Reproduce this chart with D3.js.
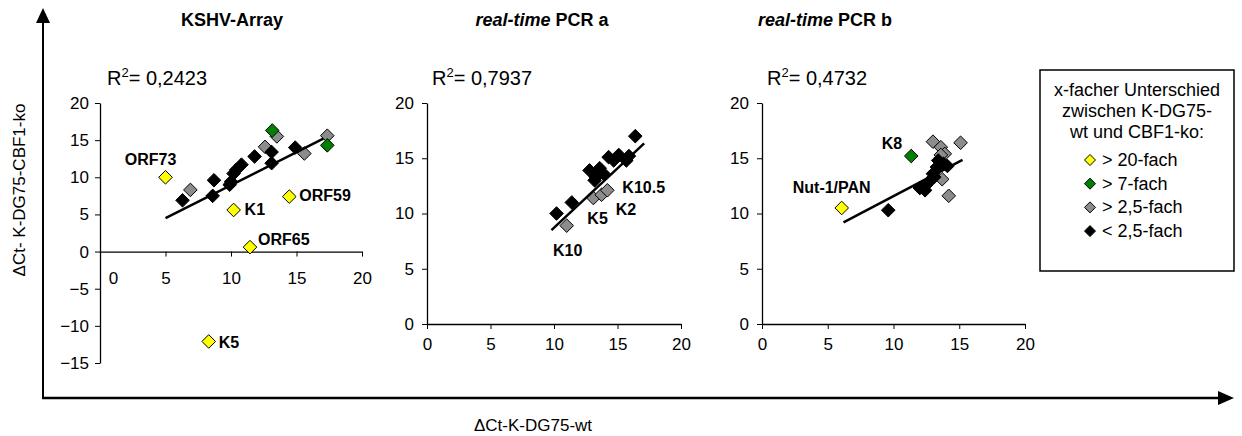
<!DOCTYPE html>
<html>
<head>
<meta charset="utf-8">
<script src="https://cdn.jsdelivr.net/npm/d3@7"></script>
<style>
  body { margin: 0; background: #ffffff; }
  svg { display: block; font-family: Arial, "Liberation Sans", Helvetica, sans-serif; }
</style>
</head>
<body>
<div id="chart"></div>
<script>
// Legend categories (fold change between K-DG75-wt and CBF1-ko)
const categoryLabels = ["> 20-fach", "> 7-fach", "> 2,5-fach", "< 2,5-fach"];
const legendTitleLines = ["x-facher Unterschied", "zwischen K-DG75-", "wt und CBF1-ko:"];

const titleItalic = ["", "real-time", "real-time"];
const titleRest = ["KSHV-Array", " PCR a", " PCR b"];
const r2Values = ["0,2423", "0,7937", "0,4732"];

const xTicks = [0, 5, 10, 15, 20];
const kshvTicksY = [-15, -10, -5, 0, 5, 10, 15, 20];
const pcrTicksY = [0, 5, 10, 15, 20];

// Panel 1: KSHV-Array (category index: 0 yellow, 1 green, 2 gray, 3 black)
const kshvX = [6.9, 12.6, 15.6, 17.35, 17.35, 13.5, 13.15,
  6.3, 8.6, 8.7, 9.9, 10.0, 10.2, 10.4, 10.8, 11.8, 13.1, 13.1, 14.9,
  5.0, 10.2, 14.45, 11.45, 8.3];
const kshvY = [8.3, 14.1, 13.2, 15.6, 14.3, 15.5, 16.3,
  6.9, 7.5, 9.6, 9.0, 9.4, 10.5, 11.0, 11.7, 12.8, 13.4, 11.9, 14.0,
  10.0, 5.6, 7.4, 0.6, -12.1];
const kshvCat = [2, 2, 2, 2, 1, 2, 1,
  3, 3, 3, 3, 3, 3, 3, 3, 3, 3, 3, 3,
  0, 0, 0, 0, 0];
const kshvNames = ["", "", "", "", "", "", "",
  "", "", "", "", "", "", "", "", "", "", "", "",
  "ORF73", "K1", "ORF59", "ORF65", "K5"];
const kshvTrendX = [5.0, 17.05];
const kshvTrendY = [4.5, 15.2];

// Panel 2: real-time PCR a
const pcrAX = [10.2, 11.4, 12.8, 13.2, 13.3, 13.6, 13.9, 14.3, 14.7, 15.1, 15.7, 15.9, 16.4,
  11.0, 13.1, 13.75, 14.2];
const pcrAY = [10.0, 11.0, 13.9, 13.0, 13.3, 14.1, 13.6, 15.1, 14.8, 15.3, 14.8, 15.2, 17.0,
  8.9, 11.4, 11.7, 12.1];
const pcrACat = [3, 3, 3, 3, 3, 3, 3, 3, 3, 3, 3, 3, 3,
  2, 2, 2, 2];
const pcrANames = ["", "", "", "", "", "", "", "", "", "", "", "", "",
  "K10", "K5", "K2", "K10.5"];
const pcrATrendX = [9.8, 17.1];
const pcrATrendY = [8.5, 16.35];

// Panel 3: real-time PCR b
const pcrBX = [13.0, 15.1, 13.6, 13.9, 13.6, 13.7, 14.2,
  9.6, 12.0, 12.4, 12.5, 12.8, 13.1, 13.0, 13.3, 13.4, 13.8, 14.1,
  6.06, 11.35];
const pcrBY = [16.5, 16.4, 16.0, 15.4, 15.3, 13.1, 11.6,
  10.3, 12.3, 12.1, 12.6, 13.0, 13.3, 13.6, 14.2, 14.8, 14.5, 14.3,
  10.5, 15.2];
const pcrBCat = [2, 2, 2, 2, 2, 2, 2,
  3, 3, 3, 3, 3, 3, 3, 3, 3, 3, 3,
  0, 1];
const pcrBNames = ["", "", "", "", "", "", "",
  "", "", "", "", "", "", "", "", "", "", "",
  "Nut-1/PAN", "K8"];
const pcrBTrendX = [6.2, 15.25];
const pcrBTrendY = [9.2, 14.85];

const categoryColors = ["#ffff00", "#008000", "#8c8c8c", "#000000"];

const panelData = [
  { x: kshvX, y: kshvY, cat: kshvCat, names: kshvNames, trendX: kshvTrendX, trendY: kshvTrendY, yTicks: kshvTicksY },
  { x: pcrAX, y: pcrAY, cat: pcrACat, names: pcrANames, trendX: pcrATrendX, trendY: pcrATrendY, yTicks: pcrTicksY },
  { x: pcrBX, y: pcrBY, cat: pcrBCat, names: pcrBNames, trendX: pcrBTrendX, trendY: pcrBTrendY, yTicks: pcrTicksY }
];

// Pixel layout of each small panel and offsets of the point labels
const panelLayouts = [
  {
    left: 100, right: 362, top: 103, bottom: 363, titleX: 232, r2X: 107,
    xLabelPad: 15, yLabelRight: 89, firstXLabelShift: 13,
    labels: {
      "ORF73": { dx: -15, dy: -18, anchor: "middle" },
      "K1": { dx: 11, dy: 0, anchor: "start" },
      "ORF59": { dx: 10, dy: -1, anchor: "start" },
      "ORF65": { dx: 8, dy: -8, anchor: "start" },
      "K5": { dx: 10, dy: 1, anchor: "start" }
    }
  },
  {
    left: 427, right: 681, top: 103, bottom: 324, titleX: 542, r2X: 432,
    xLabelPad: 9, yLabelRight: 414, firstXLabelShift: 0,
    labels: {
      "K10": { dx: 1, dy: 25, anchor: "middle" },
      "K5": { dx: -6, dy: 20, anchor: "start" },
      "K2": { dx: 14, dy: 15, anchor: "start" },
      "K10.5": { dx: 15, dy: -3, anchor: "start" }
    }
  },
  {
    left: 762, right: 1025, top: 103, bottom: 324, titleX: 825, r2X: 767,
    xLabelPad: 9, yLabelRight: 749, firstXLabelShift: 0,
    labels: {
      "Nut-1/PAN": { dx: -10, dy: -20, anchor: "middle" },
      "K8": { dx: -9, dy: -13, anchor: "end" }
    }
  }
];

const width = 1242;
const height = 436;

function diamondPath(r) {
  return `M0,${-r}L${r},0L0,${r}L${-r},0Z`;
}

const svg = d3.select("#chart")
  .append("svg")
  .attr("width", width)
  .attr("height", height);

// Big outer axes with arrows
const axisX = 43;
const axisY = 398;

svg.append("line")
  .attr("x1", axisX).attr("x2", axisX)
  .attr("y1", 20).attr("y2", axisY)
  .attr("stroke", "#000").attr("stroke-width", 2);

svg.append("path")
  .attr("d", `M${axisX},8L${axisX + 7},23L${axisX - 7},23Z`)
  .attr("fill", "#000");

svg.append("line")
  .attr("x1", axisX - 1).attr("x2", 1220)
  .attr("y1", axisY).attr("y2", axisY)
  .attr("stroke", "#000").attr("stroke-width", 2.5);

svg.append("path")
  .attr("d", `M1234,${axisY}L1218,${axisY - 7}L1218,${axisY + 7}Z`)
  .attr("fill", "#000");

svg.append("text")
  .attr("transform", "translate(25,190) rotate(-90)")
  .attr("text-anchor", "middle")
  .attr("font-size", 17)
  .attr("fill", "#000")
  .text("\u0394Ct- K-DG75-CBF1-ko");

svg.append("text")
  .attr("x", 533)
  .attr("y", 431)
  .attr("text-anchor", "middle")
  .attr("font-size", 17)
  .attr("fill", "#000")
  .text("\u0394Ct-K-DG75-wt");

panelData.forEach((data, index) => {
  const layout = panelLayouts[index];
  const group = svg.append("g").attr("class", "panel");

  const x = d3.scaleLinear()
    .domain([0, 20])
    .range([layout.left, layout.right]);

  const y = d3.scaleLinear()
    .domain(d3.extent(data.yTicks))
    .range([layout.bottom, layout.top]);

  // Title
  const title = group.append("text")
    .attr("x", layout.titleX)
    .attr("y", 26)
    .attr("text-anchor", "middle")
    .attr("font-size", 18)
    .attr("font-weight", 700)
    .attr("fill", "#000");

  if (titleItalic[index]) {
    title.append("tspan").attr("font-style", "italic").text(titleItalic[index]);
  }
  title.append("tspan").text(titleRest[index]);

  // R squared
  const r2 = group.append("text")
    .attr("x", layout.r2X)
    .attr("y", 85)
    .attr("font-size", 20)
    .attr("fill", "#000");

  r2.append("tspan").text("R");
  r2.append("tspan").attr("font-size", 13).attr("dy", -8).text("2");
  r2.append("tspan").attr("dy", 8).text("= " + r2Values[index]);

  // Axes
  group.append("g")
    .attr("transform", `translate(0,${y(0)})`)
    .call(d3.axisBottom(x)
      .tickValues(xTicks)
      .tickSize(5)
      .tickSizeOuter(0)
      .tickPadding(layout.xLabelPad))
    .call((g) => g.select(".domain").attr("stroke", "#000").attr("stroke-width", 1.3))
    .call((g) => g.selectAll(".tick line").attr("stroke", "#000"))
    .call((g) => g.selectAll("text")
      .attr("font-size", 17)
      .attr("font-family", null)
      .attr("fill", "#000")
      .attr("dx", (d, i) => (i === 0 ? layout.firstXLabelShift : 0)));

  group.append("g")
    .attr("transform", `translate(${layout.left},0)`)
    .call(d3.axisLeft(y)
      .tickValues(data.yTicks)
      .tickSize(5)
      .tickSizeOuter(0)
      .tickPadding(layout.left - layout.yLabelRight - 5))
    .call((g) => g.select(".domain").attr("stroke", "#000").attr("stroke-width", 1.3))
    .call((g) => g.selectAll(".tick line").attr("stroke", "#000"))
    .call((g) => g.selectAll("text")
      .attr("font-size", 17)
      .attr("font-family", null)
      .attr("fill", "#000"));

  // Points
  const points = data.x.map((value, i) => ({
    x: value,
    y: data.y[i],
    cat: data.cat[i],
    name: data.names[i]
  }));

  group.selectAll("path.point")
    .data(points)
    .enter()
    .append("path")
    .attr("class", "point")
    .attr("d", diamondPath(6.8))
    .attr("transform", (d) => `translate(${x(d.x)},${y(d.y)})`)
    .attr("fill", (d) => categoryColors[d.cat])
    .attr("stroke", "#000")
    .attr("stroke-width", 1);

  // Trend line
  const trend = data.trendX.map((value, i) => [value, data.trendY[i]]);

  group.append("path")
    .datum(trend)
    .attr("d", d3.line().x((d) => x(d[0])).y((d) => y(d[1])))
    .attr("fill", "none")
    .attr("stroke", "#000")
    .attr("stroke-width", 2.5);

  // Point labels
  group.selectAll("text.point-label")
    .data(points.filter((d) => d.name))
    .enter()
    .append("text")
    .attr("class", "point-label")
    .attr("x", (d) => x(d.x) + layout.labels[d.name].dx)
    .attr("y", (d) => y(d.y) + layout.labels[d.name].dy)
    .attr("text-anchor", (d) => layout.labels[d.name].anchor)
    .attr("dominant-baseline", "central")
    .attr("font-size", 16)
    .attr("font-weight", 700)
    .attr("fill", "#000")
    .text((d) => d.name);
});

// Legend
const legend = svg.append("g").attr("class", "legend");

legend.append("rect")
  .attr("x", 1040)
  .attr("y", 70)
  .attr("width", 194)
  .attr("height", 201)
  .attr("fill", "#fff")
  .attr("stroke", "#000")
  .attr("stroke-width", 1.5);

legend.selectAll("text.legend-title")
  .data(legendTitleLines)
  .enter()
  .append("text")
  .attr("class", "legend-title")
  .attr("x", 1137)
  .attr("y", (d, i) => 96 + i * 21)
  .attr("text-anchor", "middle")
  .attr("font-size", 18)
  .attr("fill", "#000")
  .text((d) => d);

const legendItems = legend.selectAll("g.legend-item")
  .data(categoryLabels)
  .enter()
  .append("g")
  .attr("class", "legend-item")
  .attr("transform", (d, i) => `translate(1090,${160 + i * 23.7})`);

legendItems.append("path")
  .attr("d", diamondPath(5.5))
  .attr("fill", (d, i) => categoryColors[i])
  .attr("stroke", "#000")
  .attr("stroke-width", 1);

legendItems.append("text")
  .attr("x", 12)
  .attr("y", 6)
  .attr("font-size", 18)
  .attr("fill", "#000")
  .text((d) => d);
</script>
</body>
</html>
